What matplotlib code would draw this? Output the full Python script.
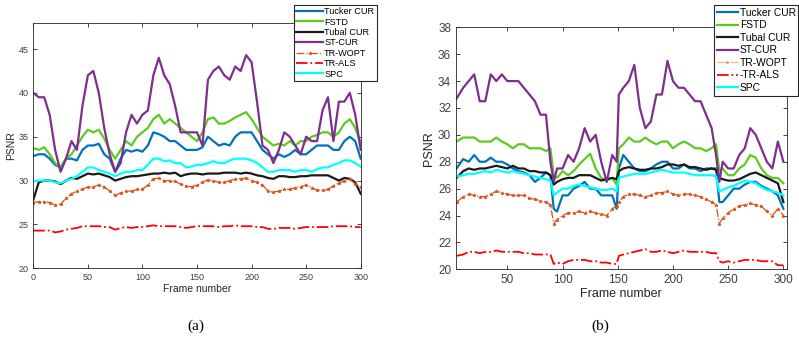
import matplotlib
matplotlib.use("Agg")
import matplotlib.pyplot as plt

# ---------------- data: panel (a) ----------------
frames_a = list(range(0, 301, 5))

a_tucker = [32.8, 33.0, 33.0, 32.5, 31.8, 31.5, 32.5, 32.5, 32.3, 33.5, 34.0, 34.0, 34.2, 33.0, 32.5, 31.0,
            32.5, 33.5, 33.3, 33.5, 33.3, 34.0, 35.5, 35.3, 35.0, 34.5, 34.5, 34.0, 33.5, 33.5, 33.5, 33.8,
            35.0, 34.5, 34.0, 34.2, 34.0, 35.0, 35.5, 35.5, 35.5, 34.5, 33.5, 33.0, 32.5, 33.0, 32.7, 33.0,
            33.5, 33.0, 33.0, 33.5, 34.0, 34.0, 34.0, 33.5, 33.5, 34.5, 35.0, 34.5, 32.5]
a_fstd = [33.7, 33.5, 33.8, 33.0, 32.0, 31.5, 32.5, 33.0, 34.0, 35.0, 35.8, 35.5, 35.8, 34.8, 33.5, 32.5,
          33.5, 34.5, 34.0, 35.0, 35.5, 36.0, 37.0, 37.5, 36.5, 37.0, 36.5, 36.0, 35.5, 35.0, 34.5, 35.5,
          37.0, 37.2, 36.5, 36.5, 36.8, 37.2, 37.5, 37.8, 37.0, 36.0, 35.0, 34.5, 34.0, 34.2, 34.0, 34.5,
          34.0, 34.5, 34.5, 35.0, 35.2, 35.5, 35.5, 35.0, 35.5, 36.5, 37.0, 36.0, 34.3]
a_tubal = [27.8, 29.8, 30.0, 30.0, 29.9, 29.6, 30.0, 30.3, 30.2, 30.5, 30.8, 30.7, 30.8, 30.6, 30.4, 30.0,
           30.2, 30.4, 30.5, 30.5, 30.6, 30.7, 30.8, 30.8, 30.9, 30.8, 30.9, 30.5, 30.7, 30.8, 30.8, 30.7,
           30.8, 30.8, 30.8, 30.9, 30.9, 30.9, 30.8, 30.9, 30.8, 30.6, 30.5, 30.3, 30.2, 30.5, 30.5, 30.4,
           30.4, 30.5, 30.5, 30.6, 30.6, 30.6, 30.6, 30.3, 30.0, 30.3, 30.2, 29.8, 28.5]
a_stcur = [40.0, 39.5, 39.5, 37.5, 33.5, 31.0, 32.5, 34.5, 33.5, 38.5, 42.0, 42.5, 40.0, 36.0, 33.0, 31.0,
           32.0, 35.5, 37.5, 36.5, 37.5, 38.0, 42.0, 44.0, 42.0, 41.0, 38.5, 35.5, 35.5, 35.5, 35.5, 34.0,
           41.5, 42.5, 43.0, 42.0, 41.5, 43.0, 42.5, 44.3, 43.5, 39.0, 34.0, 33.5, 32.0, 33.5, 35.5, 35.0,
           34.0, 33.0, 35.0, 34.5, 34.5, 38.0, 39.5, 34.5, 39.0, 39.0, 40.0, 37.5, 33.5]
a_trwopt = [27.5, 27.6, 27.6, 27.5, 27.2, 27.3, 28.0, 28.5, 28.8, 29.0, 29.3, 29.3, 29.5, 29.3, 28.8, 28.3,
            28.6, 28.8, 28.8, 29.0, 29.0, 29.5, 30.2, 30.3, 30.0, 30.0, 29.9, 29.6, 29.4, 29.3, 29.5, 29.8,
            30.1, 30.0, 29.8, 29.8, 30.0, 30.2, 30.2, 30.3, 30.0, 29.8, 29.5, 28.8, 28.7, 28.8, 29.0, 29.0,
            29.2, 29.3, 29.5, 29.2, 28.9, 28.9, 29.0, 29.4, 29.7, 30.0, 30.2, 29.6, 29.3]
a_trals = [24.3, 24.3, 24.3, 24.3, 24.1, 24.2, 24.4, 24.5, 24.6, 24.8, 24.8, 24.8, 24.8, 24.7, 24.7, 24.4,
           24.6, 24.7, 24.6, 24.7, 24.7, 24.8, 24.9, 24.8, 24.8, 24.8, 24.8, 24.7, 24.6, 24.7, 24.8, 24.8,
           24.8, 24.8, 24.7, 24.8, 24.8, 24.9, 24.8, 24.8, 24.8, 24.7, 24.7, 24.5, 24.5, 24.6, 24.6, 24.6,
           24.5, 24.6, 24.7, 24.7, 24.7, 24.7, 24.7, 24.8, 24.8, 24.8, 24.8, 24.7, 24.7]
a_spc = [29.9, 30.0, 30.0, 30.0, 29.8, 29.7, 30.0, 30.2, 30.5, 31.0, 31.5, 31.5, 31.2, 31.0, 30.8, 30.5,
         30.8, 31.0, 31.0, 31.2, 31.2, 31.8, 32.5, 32.5, 32.2, 32.3, 32.0, 32.0, 31.5, 31.6, 31.8, 31.8,
         32.0, 32.2, 32.0, 32.0, 32.3, 32.5, 32.5, 32.5, 32.3, 32.0, 31.5, 31.0, 31.0, 31.2, 31.2, 31.2,
         31.0, 31.2, 31.2, 31.0, 31.3, 31.5, 31.5, 31.8, 32.0, 32.3, 32.3, 32.0, 31.6]

# ---------------- data: panel (b) ----------------
frames_b = ([4] + list(range(10, 86, 5)) + [89, 92] + list(range(95, 146, 5)) + [149, 151]
            + list(range(155, 236, 5)) + [239, 242] + list(range(245, 301, 5)))

b_stcur = [32.7, 33.5, 34.0, 34.5, 32.5, 32.5, 34.5, 34.0, 34.5, 34.0, 34.0, 34.0, 33.5, 33.0, 32.5, 31.5,
           31.5, 28.0, 26.5, 27.5, 27.5, 28.5, 28.0, 29.0, 30.5, 29.5, 30.0, 28.0, 26.5, 28.5, 28.0, 33.0,
           33.5, 34.0, 35.2, 32.0, 30.5, 31.0, 33.0, 33.0, 35.5, 34.0, 33.5, 33.5, 33.0, 32.5, 32.5, 31.5,
           30.5, 28.5, 26.5, 28.0, 27.5, 27.5, 28.5, 29.0, 30.5, 30.0, 29.0, 28.0, 27.5, 29.5, 28.0]
b_fstd = [29.5, 29.8, 29.8, 29.8, 29.5, 29.5, 29.5, 29.8, 29.5, 29.3, 29.0, 29.3, 29.3, 29.0, 29.0, 29.0,
          28.8, 29.0, 27.0, 26.8, 27.3, 27.0, 27.3, 27.8, 28.2, 28.6, 27.5, 26.8, 26.6, 26.8, 26.3, 29.0,
          29.3, 29.8, 29.5, 29.5, 29.8, 29.5, 29.3, 29.5, 29.5, 29.0, 29.3, 29.5, 29.3, 29.0, 29.0, 28.8,
          29.0, 29.3, 27.3, 27.5, 27.0, 27.0, 27.5, 27.8, 28.5, 28.3, 27.5, 27.0, 26.8, 26.8, 26.4]
b_tucker = [27.5, 28.2, 28.0, 28.5, 28.0, 28.0, 28.3, 28.0, 28.0, 27.8, 27.5, 27.3, 27.2, 27.0, 26.5, 26.8,
            27.2, 27.0, 24.5, 24.3, 25.5, 25.5, 26.0, 26.2, 26.5, 26.0, 26.0, 25.5, 25.5, 25.5, 24.5, 27.5,
            28.5, 28.0, 27.5, 27.3, 27.3, 27.5, 27.8, 28.0, 28.0, 27.5, 27.5, 27.8, 27.5, 27.5, 27.3, 27.5,
            27.5, 27.5, 25.0, 25.0, 25.5, 26.0, 26.0, 26.3, 26.5, 26.5, 26.2, 26.0, 25.8, 25.5, 24.5]
b_tubal = [26.8, 27.3, 27.5, 27.4, 27.5, 27.5, 27.6, 27.7, 27.6, 27.5, 27.7, 27.5, 27.5, 27.3, 27.3, 27.2,
           27.2, 27.0, 26.3, 26.5, 26.7, 26.8, 26.8, 27.0, 27.0, 27.0, 26.8, 26.6, 26.7, 26.8, 26.7, 27.3,
           27.5, 27.6, 27.5, 27.4, 27.4, 27.5, 27.5, 27.6, 27.8, 27.8, 27.7, 27.8, 27.6, 27.6, 27.5, 27.4,
           27.5, 27.4, 26.8, 26.7, 26.6, 26.6, 26.7, 26.9, 27.1, 27.2, 27.0, 26.8, 26.6, 26.4, 25.0]
b_spc = [26.9, 27.0, 27.1, 27.1, 27.2, 27.3, 27.2, 27.4, 27.3, 27.2, 27.3, 27.2, 27.1, 27.0, 26.9, 26.8,
         26.7, 26.6, 25.5, 25.7, 26.0, 26.0, 26.2, 26.3, 26.2, 26.1, 26.0, 25.9, 25.9, 26.0, 25.8, 26.8,
         26.9, 27.0, 27.1, 27.1, 27.1, 27.2, 27.3, 27.4, 27.3, 27.2, 27.2, 27.2, 27.1, 27.0, 27.0, 27.0,
         27.0, 26.9, 25.8, 25.9, 26.1, 26.2, 26.4, 26.6, 26.5, 26.4, 26.1, 25.9, 25.8, 25.7, 25.5]
b_trwopt = [25.0, 25.4, 25.6, 25.5, 25.4, 25.4, 25.6, 25.8, 25.7, 25.6, 25.5, 25.5, 25.5, 25.3, 25.2, 25.1,
            25.0, 24.8, 23.4, 23.7, 24.0, 24.2, 24.2, 24.3, 24.2, 24.3, 24.2, 24.1, 24.0, 24.5, 24.7, 25.0,
            25.4, 25.6, 25.6, 25.5, 25.4, 25.5, 25.7, 25.7, 25.8, 25.6, 25.5, 25.6, 25.6, 25.5, 25.4, 25.2,
            25.0, 24.8, 23.4, 23.8, 24.2, 24.5, 24.7, 24.8, 24.9, 24.8, 24.7, 24.3, 24.0, 24.5, 24.0]
b_trals = [21.0, 21.1, 21.3, 21.3, 21.2, 21.3, 21.3, 21.4, 21.3, 21.3, 21.3, 21.3, 21.2, 21.2, 21.1, 21.1,
           21.1, 21.1, 20.4, 20.5, 20.4, 20.6, 20.7, 20.7, 20.7, 20.6, 20.6, 20.5, 20.5, 20.4, 20.4, 21.0,
           21.1, 21.2, 21.3, 21.4, 21.5, 21.3, 21.3, 21.4, 21.3, 21.2, 21.3, 21.4, 21.3, 21.3, 21.3, 21.3,
           21.2, 21.2, 20.6, 20.5, 20.6, 20.5, 20.6, 20.7, 20.7, 20.7, 20.6, 20.6, 20.6, 20.3, 20.3]

labels_a = ["Tucker CUR", "FSTD", "Tubal CUR", "ST-CUR", "TR-WOPT", "TR-ALS", "SPC"]
labels_b = ["Tucker CUR", "FSTD", "Tubal CUR", "ST-CUR", "TR-WOPT", "-TR-ALS", "SPC"]
xticks_a = [0, 50, 100, 150, 200, 250, 300]
yticks_a = [20, 25, 30, 35, 40, 45]
xticks_b = [50, 100, 150, 200, 250, 300]
yticks_b = [20, 22, 24, 26, 28, 30, 32, 34, 36, 38]

colors = ["#0072BD", "#5CCB1F", "#1A1A1A", "#7E2F8E", "#D95319", "#FF0000", "#00FFFF"]

W, H = 799, 343
fig = plt.figure(figsize=(W / 100, H / 100), dpi=100)
plt.rcParams['font.family'] = ['Liberation Sans', 'DejaVu Sans']


def draw(ax, frames, series, labels, fs_tick, fs_lab, legend_pos, leg_fs, hl, ls, wopt_alpha):
    styles = [
        dict(ls='-', lw=1.6),
        dict(ls='-', lw=1.6),
        dict(ls='-', lw=1.6),
        dict(ls='-', lw=1.6),
        dict(ls='-.', lw=0.9, marker='*', ms=2.5, mew=0.5),
        dict(ls='-.', lw=1.3),
        dict(ls='-', lw=1.6),
    ]
    for i, (ys, lab) in enumerate(zip(series, labels)):
        st = dict(styles[i])
        ax.plot(frames, ys, color=colors[i], label=lab, **st)
    for sp in ax.spines.values():
        sp.set_color('#262626')
        sp.set_linewidth(0.6)
    ax.tick_params(direction='in', length=3, width=0.6, colors='#262626',
                   labelsize=fs_tick, top=True, right=True, labelcolor='#404040')
    ax.set_ylabel('PSNR', fontsize=fs_lab, color='#262626', labelpad=2)
    ax.set_xlabel('Frame number', fontsize=fs_lab, color='#262626', labelpad=1)
    leg = ax.legend(loc='upper left', bbox_to_anchor=legend_pos, bbox_transform=fig.transFigure,
                    fontsize=leg_fs, frameon=True, fancybox=False, framealpha=1,
                    edgecolor='#262626', handlelength=hl, handletextpad=0.15,
                    borderpad=0.25, labelspacing=ls, borderaxespad=0)
    leg.get_frame().set_linewidth(0.8)
    if wopt_alpha < 1:
        leg.get_lines()[4].set_alpha(wopt_alpha)
    return leg


ax1 = fig.add_axes([33.3 / W, 1 - 268.3 / H, (360.7 - 33.3) / W, (268.3 - 22.7) / H])
draw(ax1, frames_a, [a_tucker, a_fstd, a_tubal, a_stcur, a_trwopt, a_trals, a_spc], labels_a,
     6.5, 7.5, (294 / W, 1 - 5 / H), 6.6, 2.9, 0.15, 1)
ax1.set_xlim(0, 300)
ax1.set_ylim(20, 48)
ax1.set_xticks(xticks_a)
ax1.set_yticks(yticks_a)

ax2 = fig.add_axes([456 / W, 1 - 269.3 / H, (786.7 - 456) / W, (269.3 - 27.3) / H])
draw(ax2, frames_b, [b_tucker, b_fstd, b_tubal, b_stcur, b_trwopt, b_trals, b_spc], labels_b,
     8.5, 9, (714 / W, 1 - 5 / H), 7.4, 2.1, 0.25, 0.45)
ax2.set_xlim(3.5, 303)
ax2.set_ylim(20, 38)
ax2.set_xticks(xticks_b)
ax2.set_yticks(yticks_b)

fig.text(196 / W, 1 - 326 / H, '(a)', ha='center', va='center', fontsize=11, family='Liberation Serif')
fig.text(600 / W, 1 - 326 / H, '(b)', ha='center', va='center', fontsize=11, family='Liberation Serif')

fig.savefig('out.png', dpi=100)
